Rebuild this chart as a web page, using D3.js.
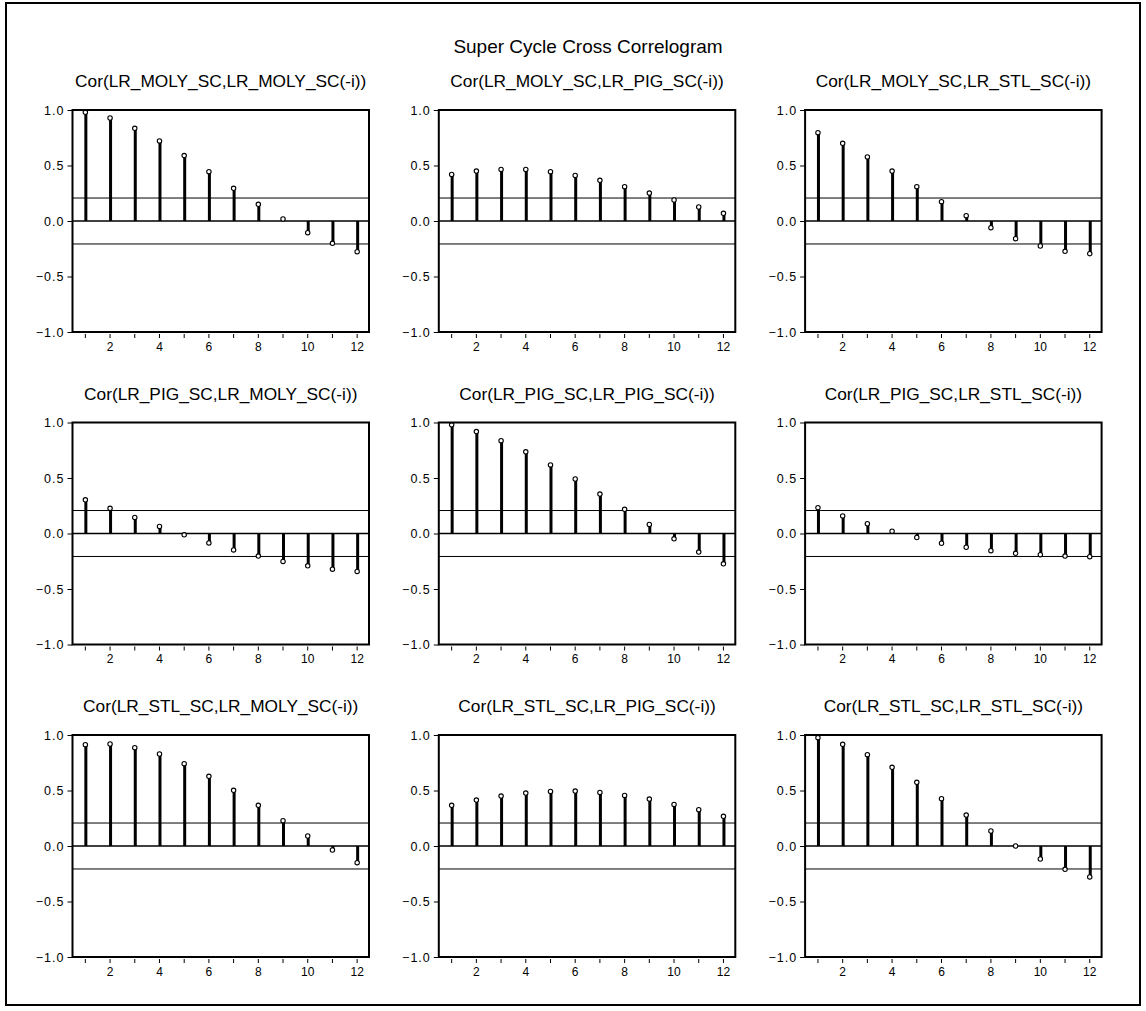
<!DOCTYPE html>
<html>
<head>
<meta charset="utf-8">
<script src="https://d3js.org/d3.v7.min.js"></script>
<style>
    body { margin: 0; background: #fff; }
    text { font-family: "Liberation Sans", Arial, sans-serif; fill: #000; }
    .ylab text { font-size: 12.5px; letter-spacing: 1px; }
    .xlab text { font-size: 12px; }
</style>
</head>
<body>
<script>
    // chart data
    let mainTitle = "Super Cycle Cross Correlogram";
    let lags = [1, 2, 3, 4, 5, 6, 7, 8, 9, 10, 11, 12];
    let yTicks = [-1.0, -0.5, 0.0, 0.5, 1.0];
    let band = 0.207;

    let titles = [
        "Cor(LR_MOLY_SC,LR_MOLY_SC(-i))", "Cor(LR_MOLY_SC,LR_PIG_SC(-i))", "Cor(LR_MOLY_SC,LR_STL_SC(-i))",
        "Cor(LR_PIG_SC,LR_MOLY_SC(-i))", "Cor(LR_PIG_SC,LR_PIG_SC(-i))", "Cor(LR_PIG_SC,LR_STL_SC(-i))",
        "Cor(LR_STL_SC,LR_MOLY_SC(-i))", "Cor(LR_STL_SC,LR_PIG_SC(-i))", "Cor(LR_STL_SC,LR_STL_SC(-i))"
    ];

    let molyMoly = [0.979, 0.928, 0.835, 0.721, 0.589, 0.444, 0.294, 0.150, 0.018, -0.105, -0.201, -0.276];
    let molyPig  = [0.420, 0.450, 0.465, 0.465, 0.444, 0.411, 0.366, 0.309, 0.252, 0.189, 0.126, 0.069];
    let molyStl  = [0.796, 0.700, 0.577, 0.450, 0.309, 0.174, 0.048, -0.060, -0.159, -0.225, -0.273, -0.294];
    let pigMoly  = [0.303, 0.227, 0.145, 0.064, -0.012, -0.085, -0.148, -0.203, -0.252, -0.291, -0.321, -0.342];
    let pigPig   = [0.979, 0.918, 0.836, 0.736, 0.618, 0.491, 0.355, 0.218, 0.082, -0.048, -0.167, -0.273];
    let pigStl   = [0.233, 0.158, 0.088, 0.021, -0.036, -0.088, -0.124, -0.155, -0.179, -0.191, -0.203, -0.209];
    let stlMoly  = [0.913, 0.919, 0.886, 0.829, 0.742, 0.628, 0.502, 0.366, 0.228, 0.090, -0.036, -0.150];
    let stlPig   = [0.366, 0.414, 0.450, 0.477, 0.492, 0.495, 0.483, 0.456, 0.423, 0.375, 0.327, 0.267];
    let stlStl   = [0.976, 0.916, 0.823, 0.709, 0.574, 0.426, 0.279, 0.135, 0.000, -0.117, -0.210, -0.279];

    let series = [molyMoly, molyPig, molyStl, pigMoly, pigPig, pigStl, stlMoly, stlPig, stlStl];

    // layout
    let W = 1146, H = 1011;
    let plotW = 296.5, plotH = 222;
    let left0 = 72.5, colStep = 366.3;
    let top0 = 110, rowStep = 312.5;

    let svg = d3.select("body").append("svg")
        .attr("width", W)
        .attr("height", H);

    svg.append("rect")
        .attr("x", 6).attr("y", 3)
        .attr("width", 1134).attr("height", 1002)
        .attr("fill", "none")
        .attr("stroke", "#000")
        .attr("stroke-width", 2);

    svg.append("text")
        .attr("x", 588)
        .attr("y", 53)
        .attr("text-anchor", "middle")
        .style("font-size", "19px")
        .text(mainTitle);

    let x = d3.scaleLinear().domain([0.5, 12.5]).range([0, plotW]);
    let y = d3.scaleLinear().domain([-1, 1]).range([plotH, 0]);

    series.forEach(function(vals, i){
        let col = i % 3, row = Math.floor(i / 3);
        let g = svg.append("g")
            .attr("transform", `translate(${left0 + col * colStep}, ${top0 + row * rowStep})`);

        g.append("text")
            .attr("x", plotW / 2)
            .attr("y", -23)
            .attr("text-anchor", "middle")
            .style("font-size", "17.3px")
            .text(titles[i]);

        // reference lines
        [band, 0, -band].forEach(function(v){
            g.append("line")
                .attr("x1", 0).attr("x2", plotW)
                .attr("y1", y(v)).attr("y2", y(v))
                .attr("stroke", "#000")
                .attr("stroke-width", v === 0 ? 1.3 : 1);
        });

        let data = lags.map((l, k) => ({lag: l, v: vals[k]}));

        g.selectAll(".stem").data(data).enter().append("line")
            .attr("class", "stem")
            .attr("x1", d => x(d.lag) + 1).attr("x2", d => x(d.lag) + 1)
            .attr("y1", y(0)).attr("y2", d => y(d.v))
            .attr("stroke", "#000")
            .attr("stroke-width", 3);

        g.selectAll(".dot").data(data).enter().append("circle")
            .attr("class", "dot")
            .attr("cx", d => x(d.lag) + 0.5)
            .attr("cy", d => y(d.v))
            .attr("r", 2.2)
            .attr("fill", "#fff")
            .attr("stroke", "#000")
            .attr("stroke-width", 1.1);

        let yAxis = d3.axisLeft(y)
            .tickValues(yTicks)
            .tickSize(5)
            .tickPadding(3)
            .tickFormat(d3.format(".1f"));
        let ya = g.append("g").attr("class", "ylab").call(yAxis);
        ya.select(".domain").remove();

        let xAxis = d3.axisBottom(x)
            .tickValues(lags)
            .tickSize(6)
            .tickPadding(4)
            .tickFormat(d => d % 2 === 0 ? d : "");
        let xa = g.append("g").attr("class", "xlab")
            .attr("transform", `translate(0, ${plotH})`)
            .call(xAxis);
        xa.select(".domain").remove();
        xa.selectAll(".tick line").attr("y1", 2);

        g.append("rect")
            .attr("x", 0).attr("y", 0)
            .attr("width", plotW).attr("height", plotH)
            .attr("fill", "none")
            .attr("stroke", "#000")
            .attr("stroke-width", 2);
    });
</script>
</body>
</html>
